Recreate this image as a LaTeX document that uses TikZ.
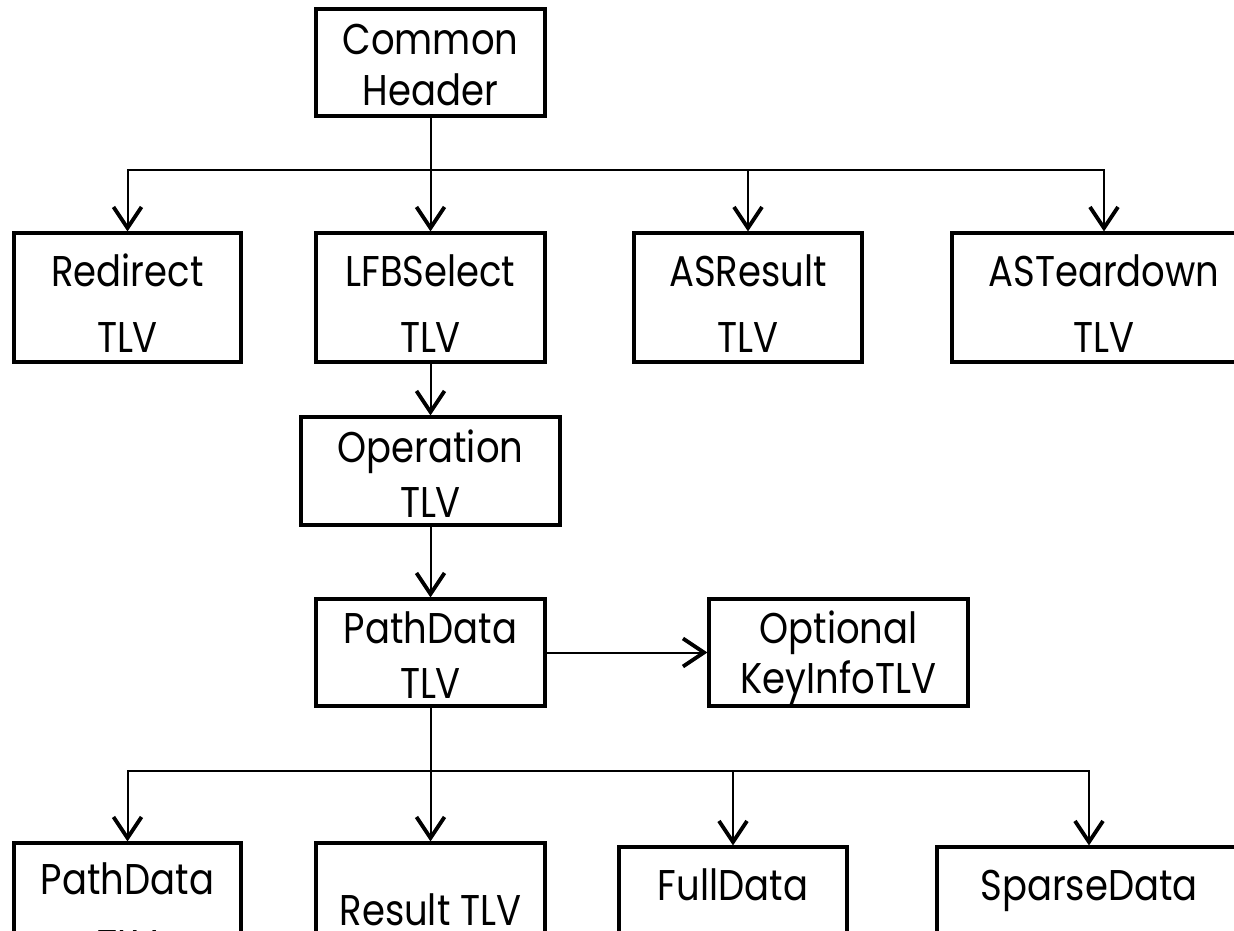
\documentclass[tikz,border=0pt]{standalone}
\usepackage{fontspec}
\setmainfont{Poppins}[FakeStretch=0.86]
\usetikzlibrary{arrows.meta}

\begin{document}
\begin{tikzpicture}[x=1pt,y=-1pt,
  tlvbox/.style={draw=black,line width=3.2pt,fill=white,inner sep=0pt,
    align=center,text depth=0pt},
  conn/.style={line width=2pt,
    -{Straight Barb[length=21pt,width=28pt,line width=3.8pt]}}]

\useasboundingbox (0,0) rectangle (1234,931);

% box: centre, width, height; text height places the last baseline
\newcommand{\tlv}[8]{%
  \node[tlvbox,minimum width=#4,minimum height=#5,text height=#6,
    font=\fontsize{#7}{#8}\selectfont] (#1) at (#2,#3)}

% top level
\tlv{ch}{430.5}{62.5}{229}{107}{87}{43}{51} {Common\\Header};

% first row
\tlv{red}{127.5}{297.5}{227}{129}{109}{43}{66} {Redirect\\TLV};
\tlv{lfb}{430.5}{297.5}{229}{129}{109}{43}{66} {LFBSelect\\TLV};
\tlv{asr}{748}{297.5}{228}{129}{109}{43}{66} {ASResult\\TLV};
\tlv{ast}{1104}{297.5}{304}{129}{109}{43}{66} {ASTeardown\\TLV};

% middle chain
\tlv{op}{430.5}{471}{259}{108}{92}{43}{55} {Operation\\TLV};
\tlv{pd}{430.5}{652.5}{229}{107}{91}{43}{55} {PathData\\TLV};
\tlv{opt}{838.5}{652.5}{259}{107}{81}{43}{50} {Optional\\KeyInfoTLV};

% bottom row
\tlv{pdb}{127.5}{907.5}{227}{129}{105}{43}{66} {PathData\\TLV};
\tlv{res}{430.5}{907.5}{229}{129}{36}{43}{66} {Result TLV};
\tlv{full}{733}{911.5}{228}{129}{109}{43}{66} {FullData\\TLV};
\tlv{sparse}{1089}{911.5}{304}{129}{109}{43}{66} {SparseData\\TLV};

% junction points of the two fan-outs
\coordinate (j1) at (430.5,170);
\coordinate (j2) at (430.5,771);

% common header to the first row
\draw[conn] (ch.south) -- (lfb.north);
\draw[conn] (j1) -| (red.north);
\draw[conn] (j1) -| (asr.north);
\draw[conn] (j1) -| (ast.north);

% down the chain
\draw[conn] (lfb.south) -- (op.north);
\draw[conn] (op.south) -- (pd.north);
\draw[conn] (pd.east) -- (opt.west);

% path data to the bottom row
\draw[conn] (pd.south) -- (res.north);
\draw[conn] (j2) -| (pdb.north);
\draw[conn] (j2) -| (full.north);
\draw[conn] (j2) -| (sparse.north);

\end{tikzpicture}
\end{document}
